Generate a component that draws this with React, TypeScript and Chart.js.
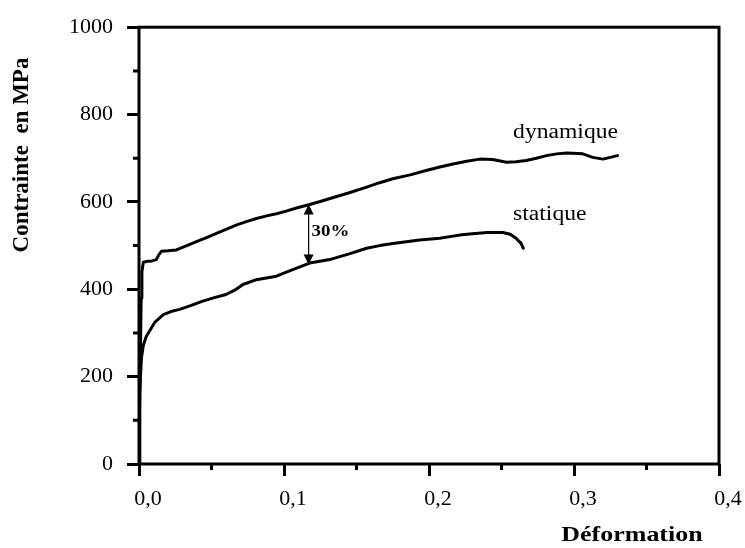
import React, { useEffect, useRef } from 'react';
import { Chart, registerables } from 'chart.js';

Chart.register(...registerables);

// ---- data (strain, stress in MPa) ----
const dynStrain = [0, 0.0005, 0.001, 0.0015, 0.002, 0.003, 0.006, 0.009, 0.012, 0.0135, 0.0155, 0.02, 0.0258, 0.033, 0.0396, 0.047, 0.0534, 0.06, 0.067, 0.074, 0.081, 0.088, 0.0948, 0.1015, 0.1086, 0.1177, 0.125, 0.134, 0.145, 0.157, 0.166, 0.175, 0.187, 0.198, 0.2075, 0.2166, 0.226, 0.235, 0.244, 0.2534, 0.26, 0.267, 0.274, 0.281, 0.288, 0.295, 0.306, 0.313, 0.32, 0.33];
const dynStress = [0, 120, 260, 380, 440, 462, 464, 465, 468, 478, 487, 488, 490, 500, 509, 519, 528, 537, 547, 555, 562, 568, 573, 579, 586, 594, 601, 610, 621, 634, 644, 653, 662, 672, 680, 687, 693, 698, 697, 691, 692, 695, 700, 706, 710, 712, 710, 702, 698, 706];

const statStrain = [0, 0.0003, 0.0006, 0.001, 0.0017, 0.003, 0.005, 0.0074, 0.011, 0.0168, 0.022, 0.028, 0.036, 0.044, 0.052, 0.06, 0.066, 0.0717, 0.081, 0.0948, 0.106, 0.1177, 0.1315, 0.145, 0.157, 0.166, 0.175, 0.1936, 0.2074, 0.221, 0.23, 0.24, 0.251, 0.256, 0.26, 0.2635, 0.265];
const statStress = [0, 100, 160, 200, 244, 272, 292, 305, 325, 342, 349, 354, 363, 373, 381, 388, 398, 411, 422, 430, 445, 460, 468, 481, 494, 500, 505, 513, 517, 524, 527, 530, 530, 526, 517, 505, 494];

// ---- axes ----
const xTickValues = [0, 0.1, 0.2, 0.3, 0.4];
const xTickLabels = ['0,0', '0,1', '0,2', '0,3', '0,4'];
const xMinorTicks = [0.05, 0.15, 0.25, 0.35];
const yTickValues = [0, 200, 400, 600, 800, 1000];
const yTickLabels = ['0', '200', '400', '600', '800', '1000'];
const yMinorTicks = [100, 300, 500, 700, 900];
const xTitle = 'Déformation';
const yTitle = 'Contrainte  en MPa';

// ---- annotations ----
const curveLabels = ['dynamique', 'statique'];
const curveLabelX = [0.258, 0.258];
const curveLabelY = [759, 570];
const gapX = 0.117;
const gapTop = 594;
const gapBottom = 457;
const gapLabel = '30%';
const gapLabelX = 0.119;
const gapLabelY = 532;

const FONT = "'Liberation Serif', 'Times New Roman', serif";

const decor = {
  id: 'decor',
  afterDraw(chart: any) {
    const { ctx, chartArea: a, scales } = chart;
    const xs = scales.x;
    const ys = scales.y;
    ctx.save();
    ctx.strokeStyle = '#000';
    ctx.fillStyle = '#000';
    // frame
    ctx.lineWidth = 3;
    ctx.strokeRect(a.left, a.top, a.right - a.left, a.bottom - a.top);
    // minor ticks
    ctx.lineWidth = 3;
    ctx.beginPath();
    xMinorTicks.forEach((v) => {
      const px = xs.getPixelForValue(v);
      ctx.moveTo(px, a.bottom);
      ctx.lineTo(px, a.bottom + 6);
    });
    yMinorTicks.forEach((v) => {
      const py = ys.getPixelForValue(v);
      ctx.moveTo(a.left - 6, py);
      ctx.lineTo(a.left, py);
    });
    ctx.stroke();

    // stretched text helper
    const text = (s: string, x: number, y: number, font: string, align: CanvasTextAlign, sx = 1.18) => {
      ctx.save();
      ctx.font = font;
      ctx.textAlign = align;
      ctx.textBaseline = 'middle';
      ctx.translate(x, y);
      ctx.scale(sx, 1);
      ctx.fillText(s, 0, 0);
      ctx.restore();
    };

    // curve labels
    curveLabels.forEach((s, i) => {
      text(s, xs.getPixelForValue(curveLabelX[i]), ys.getPixelForValue(curveLabelY[i]), `20px ${FONT}`, 'left');
    });

    // gap arrow
    const ax = xs.getPixelForValue(gapX);
    const at = ys.getPixelForValue(gapTop);
    const ab = ys.getPixelForValue(gapBottom);
    ctx.lineWidth = 1.2;
    ctx.beginPath();
    ctx.moveTo(ax, at + 8);
    ctx.lineTo(ax, ab - 8);
    ctx.stroke();
    ctx.beginPath();
    ctx.moveTo(ax, at);
    ctx.lineTo(ax - 5, at + 10);
    ctx.lineTo(ax + 5, at + 10);
    ctx.closePath();
    ctx.fill();
    ctx.beginPath();
    ctx.moveTo(ax, ab);
    ctx.lineTo(ax - 5, ab - 10);
    ctx.lineTo(ax + 5, ab - 10);
    ctx.closePath();
    ctx.fill();
    text(gapLabel, xs.getPixelForValue(gapLabelX), ys.getPixelForValue(gapLabelY), `bold 16px ${FONT}`, 'left');

    // axis titles
    text(xTitle, 632, 535, `bold 22px ${FONT}`, 'center');
    ctx.save();
    ctx.translate(22, 155);
    ctx.rotate(-Math.PI / 2);
    ctx.font = `bold 23px ${FONT}`;
    ctx.textAlign = 'center';
    ctx.textBaseline = 'middle';
    ctx.fillText(yTitle, 0, 0);
    ctx.restore();

    ctx.restore();
  },
};

export default function App() {
  const ref = useRef<HTMLCanvasElement | null>(null);
  useEffect(() => {
    if (!ref.current) return;
    const lineStyle = {
      borderColor: '#000',
      borderWidth: 3,
      pointRadius: 0,
      tension: 0,
      fill: false,
      borderJoinStyle: 'round' as const,
      borderCapStyle: 'round' as const,
    };
    const chart = new Chart(ref.current, {
      type: 'line',
      data: {
        datasets: [
          { label: curveLabels[0], data: dynStrain.map((x, i) => ({ x, y: dynStress[i] })), ...lineStyle },
          { label: curveLabels[1], data: statStrain.map((x, i) => ({ x, y: statStress[i] })), ...lineStyle },
        ],
      },
      options: {
        animation: false,
        responsive: false,
        devicePixelRatio: 1,
        layout: { padding: { left: 0, top: 24, right: 26, bottom: 0 } },
        plugins: { legend: { display: false }, tooltip: { enabled: false } },
        scales: {
          x: {
            type: 'linear',
            min: 0,
            max: 0.4,
            afterBuildTicks: (s: any) => {
              s.ticks = xTickValues.map((value) => ({ value }));
            },
            afterFit: (s: any) => {
              s.height = 84;
            },
            border: { display: false },
            grid: { drawOnChartArea: false, drawTicks: true, tickLength: 12, tickWidth: 3, tickColor: '#000' },
            ticks: {
              autoSkip: false,
              maxRotation: 0,
              padding: 10,
              labelOffset: 9,
              color: '#000',
              font: { family: FONT, size: 22 },
              callback: (_v: any, i: number) => xTickLabels[i],
            },
          },
          y: {
            type: 'linear',
            min: 0,
            max: 1000,
            afterBuildTicks: (s: any) => {
              s.ticks = yTickValues.map((value) => ({ value }));
            },
            afterFit: (s: any) => {
              s.width = 139;
            },
            border: { display: false },
            grid: { drawOnChartArea: false, drawTicks: true, tickLength: 12, tickWidth: 3, tickColor: '#000' },
            ticks: {
              padding: 14,
              color: '#000',
              font: { family: FONT, size: 22 },
              callback: (_v: any, i: number) => yTickLabels[i],
            },
          },
        },
      },
      plugins: [decor],
    });
    return () => chart.destroy();
  }, []);
  return (
    <div style={{ position: 'fixed', left: 0, top: 0, width: 745, height: 548, background: '#fff' }}>
      <canvas ref={ref} width={745} height={548} />
    </div>
  );
}
